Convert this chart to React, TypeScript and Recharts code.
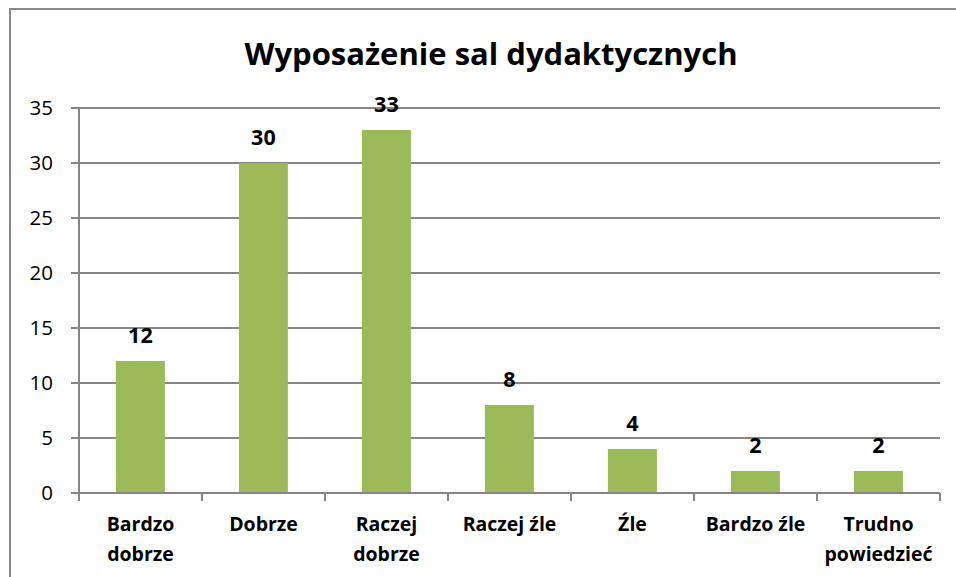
import { Bar, BarChart, CartesianGrid, LabelList, XAxis, YAxis } from "recharts";

const categories = ["Bardzo dobrze", "Dobrze", "Raczej dobrze", "Raczej źle", "Źle", "Bardzo źle", "Trudno powiedzieć"];
const tickLines = [["Bardzo", "dobrze"], ["Dobrze"], ["Raczej", "dobrze"], ["Raczej źle"], ["Źle"], ["Bardzo źle"], ["Trudno", "powiedzieć"]];
const values = [12, 30, 33, 8, 4, 2, 2];
const yTicks = [0, 5, 10, 15, 20, 25, 30, 35];

const data = categories.map((name, i) => ({ name, value: values[i], lines: tickLines[i] }));

const FONT = "'Open Sans', 'Liberation Sans', sans-serif";
const GRID = "#868686";

function CategoryTick(props: any) {
  const { x, y, payload, index } = props;
  const half = payload?.offset || 61.5;
  const lines: string[] = tickLines[index] ?? [payload.value];
  return (
    <g>
      {index === 0 && <line x1={x - half} x2={x - half} y1={y - 8} y2={y} stroke={GRID} strokeWidth={2} />}
      <line x1={x + half} x2={x + half} y1={y - 8} y2={y} stroke={GRID} strokeWidth={2} />
      {lines.map((l, k) => (
        <text key={k} x={x} y={y + 30 + k * 30} textAnchor="middle" fontFamily={FONT} fontWeight={700} fontSize={19.5} fill="#000">
          {l}
        </text>
      ))}
    </g>
  );
}

export default function App() {
  return (
    <div style={{ position: "fixed", left: 0, top: 0, width: 956, height: 577, overflow: "hidden", background: "#fff" }}>
      <div style={{ position: "absolute", left: 9, top: 8, width: 1000, height: 620, border: "2px solid #898989" }} />
      <div
        style={{
          position: "absolute",
          left: 0,
          width: 982,
          top: 32,
          textAlign: "center",
          fontFamily: FONT,
          fontWeight: 700,
          fontSize: 31,
          color: "#000",
        }}
      >
        Wyposażenie sal dydaktycznych
      </div>
      <div style={{ position: "absolute", left: 0, top: 0 }}>
        <BarChart width={956} height={577} data={data} margin={{ top: 108, right: 16, left: 0, bottom: 0 }} barCategoryGap="30%">
          <CartesianGrid vertical={false} stroke={GRID} strokeWidth={2} />
          <XAxis
            dataKey="name"
            height={84}
            axisLine={{ stroke: GRID, strokeWidth: 2 }}
            tickLine={false}
            tick={<CategoryTick />}
            interval={0}
          />
          <YAxis
            width={79}
            domain={[0, 35]}
            ticks={yTicks}
            axisLine={{ stroke: GRID, strokeWidth: 2 }}
            tickLine={{ stroke: GRID, strokeWidth: 2 }}
            tickSize={8}
            tickMargin={18}
            tick={{ fontFamily: FONT, fontSize: 20.5, fill: "#000" }}
          />
          <Bar dataKey="value" fill="#9BBB59" isAnimationActive={false}>
            <LabelList dataKey="value" position="top" offset={18} style={{ fontFamily: FONT, fontWeight: 700, fontSize: 21.5, fill: "#000" }} />
          </Bar>
        </BarChart>
      </div>
    </div>
  );
}
